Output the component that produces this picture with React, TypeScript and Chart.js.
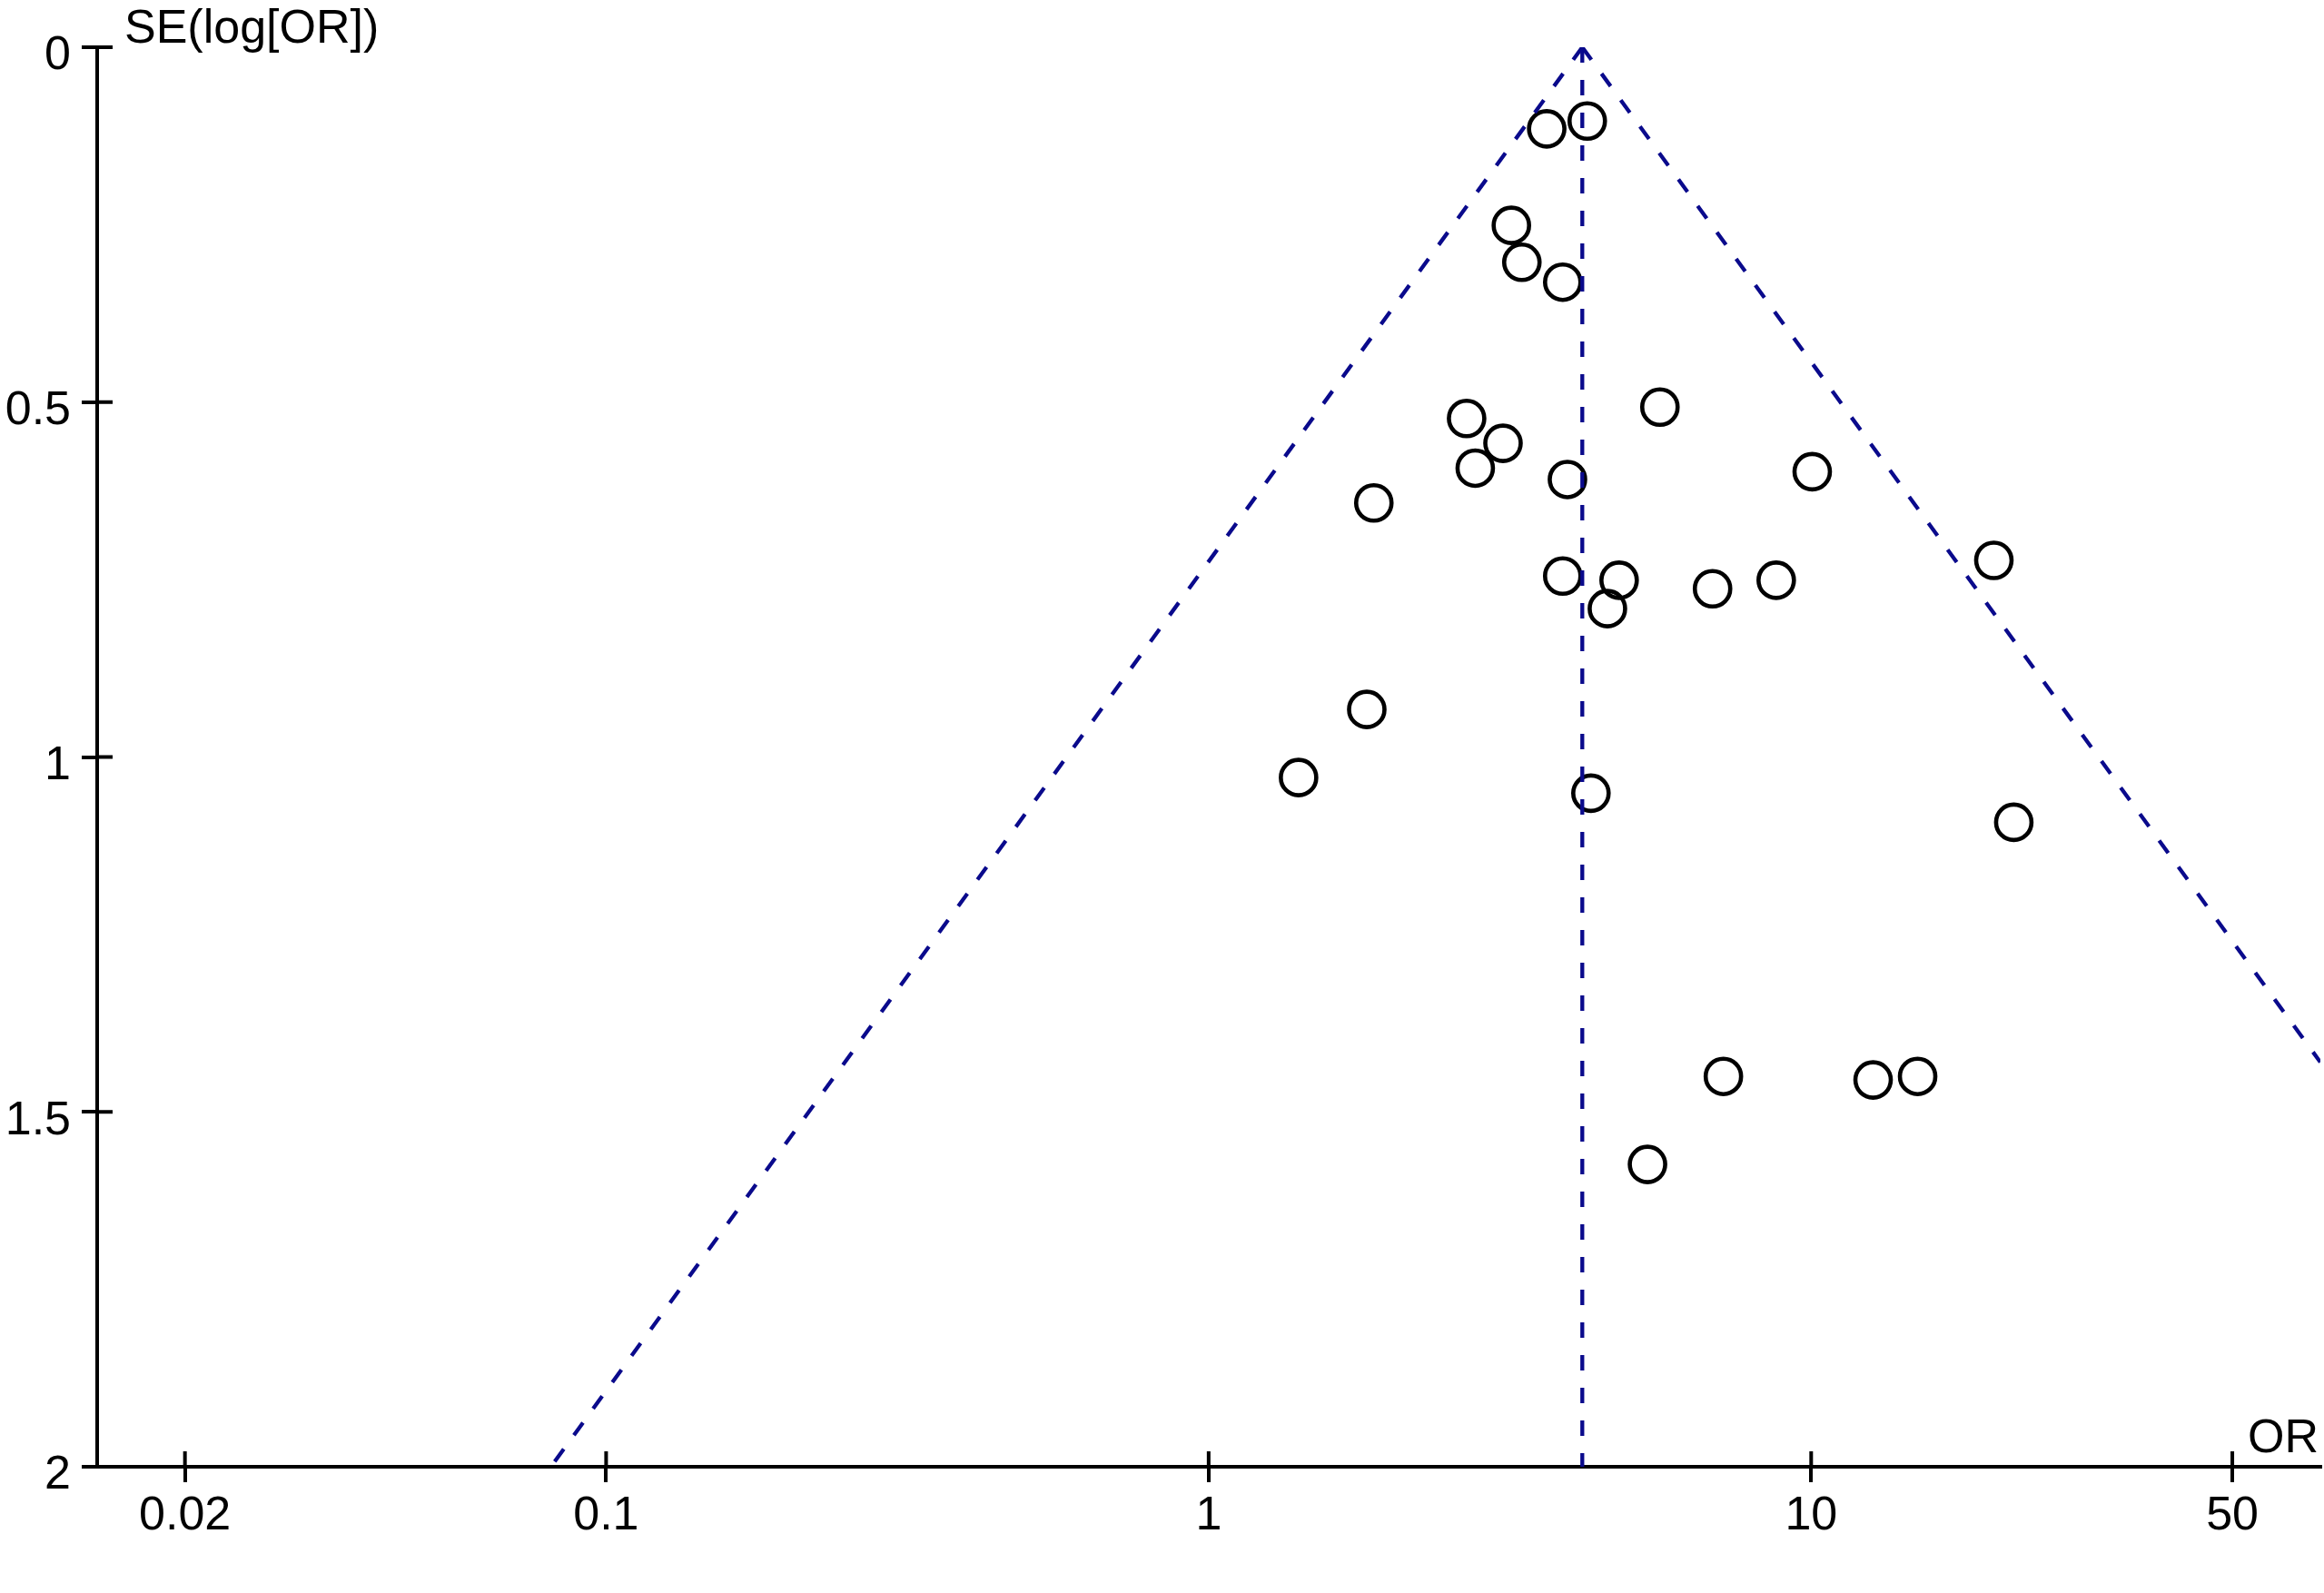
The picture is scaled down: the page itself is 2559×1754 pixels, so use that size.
import React, { useEffect, useRef } from "react";
import { Chart, registerables } from "chart.js";

Chart.register(...registerables);

// Study estimates (odds ratio) and their standard errors of log[OR]
const orValues = [3.64, 4.25, 3.18, 3.31, 3.87, 5.61, 2.68, 3.08, 2.77, 3.94, 10.04, 1.88, 20.1, 3.87, 4.8, 6.86, 8.75, 4.59, 1.83, 1.41, 4.31, 21.69, 7.15, 12.67, 15.02, 5.35];
const seValues = [0.115, 0.104, 0.251, 0.303, 0.331, 0.507, 0.523, 0.558, 0.593, 0.609, 0.598, 0.642, 0.723, 0.745, 0.751, 0.763, 0.751, 0.791, 0.933, 1.029, 1.051, 1.092, 1.45, 1.455, 1.45, 1.574];

// Pooled estimate and funnel (pseudo 95% limits) end points
const pooledOR = 4.17;
const funnelLeftOR = [4.17, 0.081];
const funnelLeftSE = [0, 2];
const funnelRightOR = [4.17, 70];
const funnelRightSE = [0, 1.43];
const pooledLineSE = [0, 2];

// Axes
const xTickValues = [0.02, 0.1, 1, 10, 50];
const yTickValues = [0, 0.5, 1, 1.5, 2];
const xMin = 0.0143;
const xMax = 70;
const yTitle = "SE(log[OR])";
const xTitle = "OR";

const FONT = '"Liberation Sans", Arial, Helvetica, sans-serif';
const NAVY = "#0A0A8C";

export default function App() {
  const ref = useRef<HTMLCanvasElement | null>(null);

  useEffect(() => {
    const canvas = ref.current;
    if (!canvas) return;

    const studyPoints = orValues.map((v, i) => ({ x: v, y: seValues[i] }));
    const leftLine = funnelLeftOR.map((v, i) => ({ x: v, y: funnelLeftSE[i] }));
    const rightLine = funnelRightOR.map((v, i) => ({ x: v, y: funnelRightSE[i] }));
    const midLine = pooledLineSE.map((s) => ({ x: pooledOR, y: s }));

    const dashed = {
      showLine: true,
      pointRadius: 0,
      pointHoverRadius: 0,
      borderColor: NAVY,
      borderWidth: 4.3,
      borderDash: [17, 19],
      fill: false,
      tension: 0,
    };

    const innerTicks = {
      id: "innerTicks",
      afterDraw(chart: any) {
        const ctx = chart.ctx;
        const xs = chart.scales.x;
        const ys = chart.scales.y;
        const area = chart.chartArea;
        ctx.save();
        ctx.strokeStyle = "#000";
        ctx.lineWidth = 4;
        ctx.beginPath();
        xTickValues.forEach((v) => {
          const px = xs.getPixelForValue(v);
          ctx.moveTo(px, area.bottom);
          ctx.lineTo(px, area.bottom - 17);
        });
        yTickValues.forEach((v) => {
          const py = ys.getPixelForValue(v);
          ctx.moveTo(area.left, py);
          ctx.lineTo(area.left + 17, py);
        });
        ctx.stroke();
        ctx.fillStyle = "#000";
        ctx.font = `52px ${FONT}`;
        ctx.textBaseline = "alphabetic";
        ctx.textAlign = "left";
        ctx.fillText(yTitle, area.left + 30, area.top - 5);
        ctx.textAlign = "right";
        ctx.fillText(xTitle, area.right - 2, area.bottom - 16);
        ctx.restore();
      },
    };

    const chart = new Chart(canvas, {
      type: "scatter",
      data: {
        datasets: [
          { ...dashed, data: leftLine },
          { ...dashed, data: rightLine },
          { ...dashed, data: midLine },
          {
            data: studyPoints,
            pointRadius: 19.5,
            pointHoverRadius: 19.5,
            pointBorderWidth: 4.6,
            pointBackgroundColor: "rgba(0,0,0,0)",
            pointBorderColor: "#000",
            showLine: false,
          },
        ],
      },
      options: {
        animation: false,
        responsive: false,
        devicePixelRatio: 1,
        events: [],
        layout: { autoPadding: false, padding: { top: 52, right: 4, left: 0, bottom: 0 } },
        plugins: {
          legend: { display: false },
          tooltip: { enabled: false },
        },
        scales: {
          x: {
            type: "logarithmic",
            min: xMin,
            max: xMax,
            afterBuildTicks: (scale: any) => {
              scale.ticks = xTickValues.map((v) => ({ value: v }));
            },
            afterFit: (scale: any) => {
              scale.height = 139;
            },
            border: { display: true, color: "#000", width: 4 },
            grid: {
              drawOnChartArea: false,
              drawTicks: true,
              tickLength: 17,
              tickWidth: 4,
              tickColor: "#000",
              color: "#000",
              lineWidth: 4,
            },
            ticks: {
              autoSkip: false,
              maxRotation: 0,
              minRotation: 0,
              padding: 6,
              color: "#000",
              font: { family: FONT, size: 52 },
              callback: (v: any) => String(v),
            },
          },
          y: {
            type: "linear",
            reverse: true,
            min: 0,
            max: 2,
            afterBuildTicks: (scale: any) => {
              scale.ticks = yTickValues.map((v) => ({ value: v }));
            },
            afterFit: (scale: any) => {
              scale.width = 107;
            },
            border: { display: true, color: "#000", width: 4 },
            grid: {
              drawOnChartArea: false,
              drawTicks: true,
              tickLength: 17,
              tickWidth: 4,
              tickColor: "#000",
              color: "#000",
              lineWidth: 4,
            },
            ticks: {
              padding: 12,
              labelOffset: 10,
              color: "#000",
              font: { family: FONT, size: 52 },
              callback: (v: any) => String(v),
            },
          },
        },
      },
      plugins: [innerTicks],
    } as any);

    return () => chart.destroy();
  }, []);

  return (
    <div style={{ position: "absolute", left: 0, top: 0, width: 2559, height: 1754, background: "#fff" }}>
      <canvas ref={ref} width={2559} height={1754} style={{ display: "block", width: 2559, height: 1754 }} />
    </div>
  );
}
